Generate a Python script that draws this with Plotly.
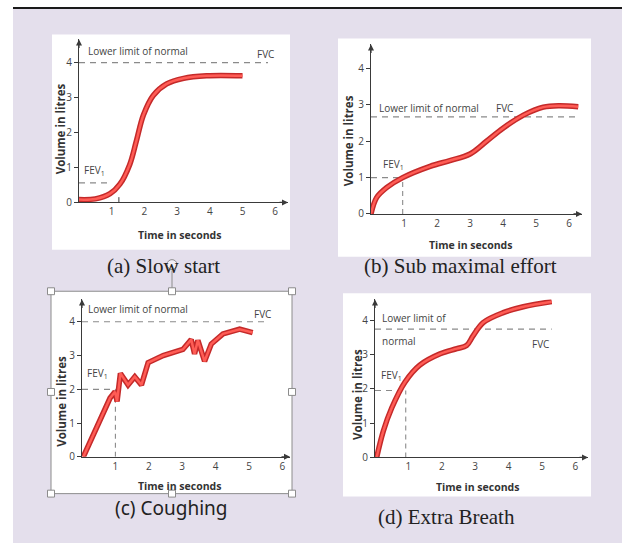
import plotly.graph_objects as go

W, H = 622, 550

# ---------------- data ----------------
a_time = [0.0, 0.5, 0.95, 1.25, 1.55, 1.75, 1.97, 2.27, 2.68, 3.2, 3.9, 5.0]
a_volume = [0.08, 0.1, 0.25, 0.52, 1.08, 1.74, 2.5, 3.06, 3.39, 3.55, 3.62, 3.62]

b_time = [0.0, 0.17, 0.48, 0.96, 1.79, 2.39, 3.0, 3.5, 4.0, 4.62, 5.22, 5.7, 6.28]
b_volume = [0.0, 0.45, 0.73, 1.0, 1.31, 1.47, 1.65, 2.0, 2.36, 2.72, 2.94, 2.98, 2.95]

c_time = [0.04, 0.44, 0.84, 0.99, 1.05, 1.15, 1.38, 1.58, 1.78, 1.98, 2.43, 3.02, 3.27,
          3.37, 3.47, 3.67, 3.87, 4.22, 4.72, 5.11]
c_volume = [0.0, 0.86, 1.74, 1.93, 1.64, 2.47, 2.13, 2.37, 2.13, 2.79, 3.0, 3.18, 3.47,
            3.05, 3.45, 2.83, 3.34, 3.64, 3.78, 3.68]

d_time = [0.05, 0.25, 0.5, 0.9, 1.34, 1.95, 2.45, 2.74, 2.94, 3.24, 3.84, 4.44, 5.29]
d_volume = [0.0, 0.77, 1.44, 2.2, 2.69, 3.02, 3.17, 3.26, 3.55, 3.93, 4.22, 4.39, 4.54]

# lower limit of normal (level, end time) and FEV1 marker (time, volume)
lln_level = {"a": 4.0, "b": 2.67, "c": 4.0, "d": 3.74}
lln_end = {"a": 5.78, "b": 6.28, "c": 5.56, "d": 5.29}
fev1_time = {"a": 1.0, "b": 0.96, "c": 1.0, "d": 0.92}
fev1_volume = {"a": 0.56, "b": 1.0, "c": 2.0, "d": 1.95}
fev1_tick = {"a": 1.22}

y_ticks = [0, 1, 2, 3, 4]
x_ticks = [1, 2, 3, 4, 5, 6]

captions = {"a": "(a) Slow start", "b": "(b) Sub maximal effort",
            "c": "(c) Coughing", "d": "(d) Extra Breath"}

# ---------------- layout helpers ----------------
def px(x):
    return x / W


def py(y):
    return 1 - y / H


# panel geometry in pixels: x-axis start/end, y bottom/top, sec/litre scale
geo = {
    "a": dict(x0=79, x1=288, y0=205, y1=40, sx=32.7, sy=35.4, n=""),
    "b": dict(x0=371, x1=582, y0=216.7, y1=45, sx=33.0, sy=36.8, n="2"),
    "c": dict(x0=82, x1=290, y0=462.7, y1=303.3, sx=33.4, sy=34.2, n="3"),
    "d": dict(x0=375, x1=588, y0=463.3, y1=303.3, sx=33.4, sy=34.75, n="4"),
}

series = {"a": (a_time, a_volume), "b": (b_time, b_volume),
          "c": (c_time, c_volume), "d": (d_time, d_volume)}

fig = go.Figure()
annotations = []
shapes = []

LAV = "#e4dfec"
AX = "#3a3a3a"
TXT = "#444444"
DASH = "#8a8a8a"
SMALL = dict(family="Open Sans", size=10, color=TXT)

# background
shapes.append(dict(type="rect", xref="paper", yref="paper", x0=px(13), x1=1, y0=0, y1=py(9),
                   fillcolor=LAV, line=dict(width=0), layer="below"))
shapes.append(dict(type="line", xref="paper", yref="paper", x0=px(13), x1=1, y0=py(8), y1=py(8),
                   line=dict(color="#1a1a1a", width=2)))
# white panels
for (l, t, r, b) in [(52, 35, 290, 253), (338, 39, 591, 260), (51, 295, 292, 500), (343, 297, 591, 503)]:
    shapes.append(dict(type="rect", xref="paper", yref="paper", x0=px(l), x1=px(r), y0=py(b), y1=py(t),
                       fillcolor="white", line=dict(width=0), layer="below"))

for key, g in geo.items():
    n = g["n"]
    xa, ya = "x" + n, "y" + n
    xr = (g["x1"] - g["x0"]) / g["sx"]
    yr = (g["y0"] - g["y1"]) / g["sy"]
    fig.update_layout(**{
        "xaxis" + n: dict(domain=[px(g["x0"]), px(g["x1"])], range=[0, xr], anchor=ya,
                          showgrid=False, zeroline=False, showline=True, linecolor=AX, linewidth=1,
                          tickvals=x_ticks, ticks="", tickfont=SMALL, fixedrange=True),
        "yaxis" + n: dict(domain=[py(g["y0"]), py(g["y1"])], range=[0, yr], anchor=xa,
                          showgrid=False, zeroline=False, showline=True, linecolor=AX, linewidth=1,
                          tickvals=y_ticks, ticks="outside", ticklen=4, tickcolor=AX,
                          tickfont=SMALL, fixedrange=True),
    })
    # dashed reference lines
    fig.add_trace(go.Scatter(x=[0, lln_end[key]], y=[lln_level[key]] * 2, xaxis=xa, yaxis=ya,
                             mode="lines", line=dict(color=DASH, width=1.2, dash="6px,5px"),
                             showlegend=False, hoverinfo="skip"))
    fig.add_trace(go.Scatter(x=[0, fev1_time[key]], y=[fev1_volume[key]] * 2, xaxis=xa, yaxis=ya,
                             mode="lines", line=dict(color=DASH, width=1.2, dash="6px,5px"),
                             showlegend=False, hoverinfo="skip"))
    if key in fev1_tick:
        fig.add_trace(go.Scatter(x=[fev1_tick[key]] * 2, y=[0, 0.15], xaxis=xa, yaxis=ya,
                                 mode="lines", line=dict(color=AX, width=1),
                                 showlegend=False, hoverinfo="skip"))
    else:
        fig.add_trace(go.Scatter(x=[fev1_time[key]] * 2, y=[0, fev1_volume[key]], xaxis=xa, yaxis=ya,
                                 mode="lines", line=dict(color=DASH, width=1.1, dash="5px,4px"),
                                 showlegend=False, hoverinfo="skip"))
    # curve: dark outline + bright core
    t, v = series[key]
    shape = "linear" if key == "c" else "spline"
    fig.add_trace(go.Scatter(x=t, y=v, xaxis=xa, yaxis=ya, mode="lines",
                             line=dict(color="#c42a2a", width=5.5, shape=shape),
                             showlegend=False, hoverinfo="skip"))
    fig.add_trace(go.Scatter(x=t, y=v, xaxis=xa, yaxis=ya, mode="lines",
                             line=dict(color="#ff5c55", width=2.5, shape=shape),
                             showlegend=False, hoverinfo="skip"))
    # axis arrowheads
    annotations.append(dict(x=xr, y=0, xref=xa, yref=ya, ax=-10, ay=0, axref="pixel", ayref="pixel",
                            showarrow=True, arrowhead=2, arrowsize=1, arrowwidth=1.2, arrowcolor=AX, text=""))
    annotations.append(dict(x=0, y=yr, xref=xa, yref=ya, ax=0, ay=10, axref="pixel", ayref="pixel",
                            showarrow=True, arrowhead=2, arrowsize=1, arrowwidth=1.2, arrowcolor=AX, text=""))

# in-plot labels
def lab(text, x, y, n, anchor="left"):
    annotations.append(dict(text=text, x=x, y=y, xref="x" + n, yref="y" + n, showarrow=False,
                            xanchor=anchor, yanchor="middle", font=SMALL))

lab("Lower limit of normal", 0.2, 4.33, "")
lab("FVC", 5.69, 4.24, "", "center")
lab("FEV<sub>1</sub>", 0.1, 0.9, "")
lab("Lower limit of normal", 0.17, 2.92, "2")
lab("FVC", 4.06, 2.92, "2", "center")
lab("FEV<sub>1</sub>", 0.3, 1.36, "2")
lab("Lower limit of normal", 0.12, 4.37, "3")
lab("FVC", 5.41, 4.22, "3", "center")
lab("FEV<sub>1</sub>", 0.1, 2.47, "3")
lab("Lower limit of", 0.15, 4.07, "4")
lab("normal", 0.15, 3.4, "4")
lab("FVC", 4.94, 3.31, "4", "center")
lab("FEV<sub>1</sub>", 0.12, 2.4, "4")


def paper_text(text, x, y, font, angle=0):
    annotations.append(dict(text=text, x=px(x), y=py(y), xref="paper", yref="paper",
                            showarrow=False, xanchor="center", yanchor="middle",
                            font=font, textangle=angle))


TTITLE = dict(family="Open Sans", size=10.5, color="#333333")
VTITLE = dict(family="Open Sans", size=11.5, color="#333333")
for (cx, cy) in [(179, 238), (470, 248), (179, 492), (477, 493)]:
    paper_text("<b>Time in seconds</b>", cx, cy, TTITLE)
for (cx, cy) in [(60, 130), (348, 143), (62, 407), (358, 400)]:
    paper_text("<b>Volume in litres</b>", cx, cy, VTITLE, -90)

SERIF = dict(family="Liberation Serif", size=21, color="#222222")
paper_text(captions["a"], 164, 269, SERIF)
paper_text(captions["b"], 460, 269, SERIF)
paper_text(captions["c"], 171, 515, dict(family="Noto Sans", size=19, color="#222222"))
paper_text(captions["d"], 446, 524, SERIF)

# selection frame around panel (c)
shapes.append(dict(type="rect", xref="paper", yref="paper", x0=px(51), x1=px(292), y0=py(500), y1=py(295),
                   line=dict(color="#8c8c8c", width=1)))
shapes.append(dict(type="line", xref="paper", yref="paper", x0=px(172), x1=px(172), y0=py(274), y1=py(292),
                   line=dict(color="#8c8c8c", width=1)))
shapes.append(dict(type="circle", xref="paper", yref="paper", x0=px(167), x1=px(177), y0=py(273), y1=py(263),
                   line=dict(color="#8c8c8c", width=1), fillcolor="rgba(255,255,255,0.5)"))
for (hx, hy) in [(51, 295), (172, 295), (292, 295), (51, 397), (292, 397), (51, 500), (172, 500), (292, 500)]:
    shapes.append(dict(type="rect", xref="paper", yref="paper", x0=px(hx - 3.5), x1=px(hx + 3.5),
                       y0=py(hy + 3.5), y1=py(hy - 3.5), fillcolor="white",
                       line=dict(color="#8c8c8c", width=1)))

fig.update_layout(width=W, height=H, margin=dict(l=0, r=0, t=0, b=0, pad=0),
                  paper_bgcolor="white", plot_bgcolor="rgba(0,0,0,0)",
                  shapes=shapes, annotations=annotations, showlegend=False)

fig.write_html("out.html")
